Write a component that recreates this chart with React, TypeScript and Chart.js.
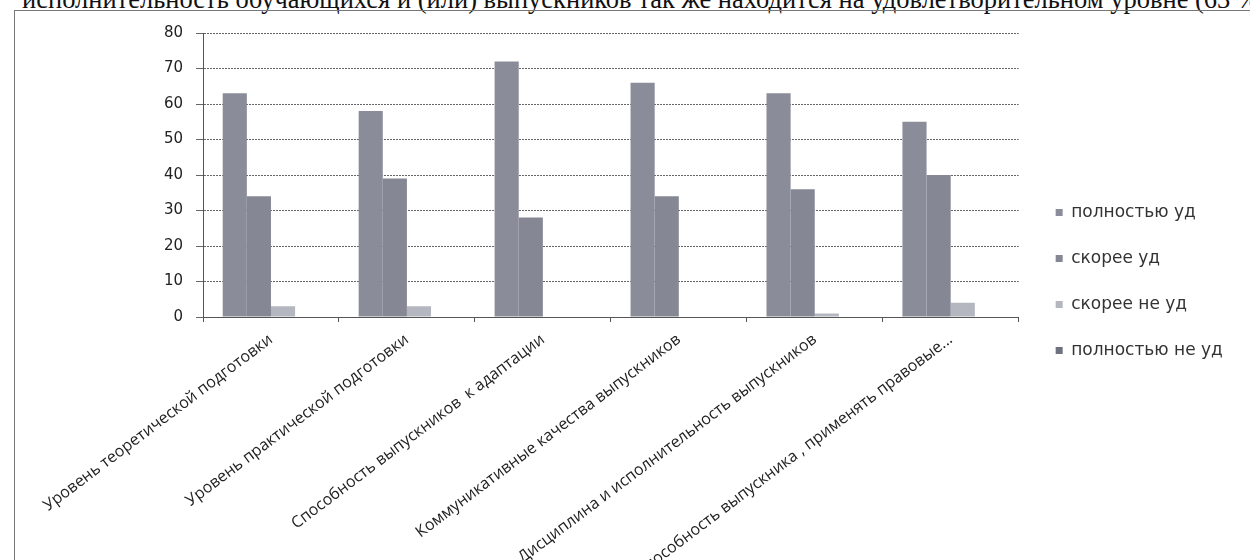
import React, { useEffect, useRef } from "react";
import { Chart, registerables } from "chart.js";

Chart.register(...registerables);

const headerText =
  "исполнительность обучающихся и (или) выпускников так же находится на удовлетворительном уровне (63 %";

const categories = [
  "Уровень теоретической подготовки",
  "Уровень практической подготовки",
  "Способность выпускников  к адаптации",
  "Коммуникативные качества выпускников",
  "Дисциплина и исполнительность выпускников",
  "Способность выпускника , применять правовые...",
];

const seriesNames = ["полностью уд", "скорее уд", "скорее не уд", "полностью не уд"];

const fullySatisfied = [63, 58, 72, 66, 63, 55];
const ratherSatisfied = [34, 39, 28, 34, 36, 40];
const ratherNotSatisfied = [3, 3, 0, 0, 1, 4];
const fullyNotSatisfied = [0, 0, 0, 0, 0, 0];

const yMin = 0;
const yMax = 80;
const yStep = 10;

const seriesColors = ["#8a8d99", "#858894", "#b4b7c0", "#6e717e"];

// let the rotated category labels run past the axis box down to the canvas edge
const unclipLabels = {
  id: "unclipLabels",
  afterLayout(chart: any) {
    const sx = chart.scales.x;
    if (sx) sx.bottom = chart.height;
  },
};

export default function App() {
  const ref = useRef<HTMLCanvasElement>(null);

  useEffect(() => {
    if (!ref.current) return;
    const seriesData = [fullySatisfied, ratherSatisfied, ratherNotSatisfied, fullyNotSatisfied];
    const chart = new Chart(ref.current, {
      type: "bar",
      data: {
        labels: categories,
        datasets: seriesNames.map((name, i) => ({
          label: name,
          data: seriesData[i],
          backgroundColor: seriesColors[i],
          borderWidth: 0,
          categoryPercentage: 0.71,
          barPercentage: 1,
        })),
      },
      plugins: [unclipLabels],
      options: {
        responsive: false,
        animation: false,
        layout: { padding: { top: 16, bottom: 24, left: 0, right: 21 } },
        plugins: {
          legend: {
            position: "right",
            labels: {
              boxWidth: 7,
              boxHeight: 7,
              padding: 29,
              color: "#333",
              font: { family: "DejaVu Sans", size: 17 },
            },
          },
          tooltip: { enabled: false },
        },
        scales: {
          x: {
            grid: { drawOnChartArea: false, drawTicks: true, tickLength: 5, color: "#555" },
            border: { color: "#555" },
            ticks: {
              autoSkip: false,
              maxRotation: 37,
              minRotation: 37,
              color: "#222",
              padding: 8,
              font: { family: "Open Sans", size: 16 },
            },
            afterFit: (s: any) => {
              s.height = 219;
              s.paddingLeft = 0;
              s.paddingRight = 0;
            },
          },
          y: {
            min: yMin,
            max: yMax,
            ticks: {
              stepSize: yStep,
              color: "#222",
              padding: 13,
              font: { family: "DejaVu Sans", size: 15 },
            },
            grid: { color: "#666", tickLength: 7, drawTicks: true },
            border: { color: "#555", dash: [2, 1] },
            afterFit: (s: any) => {
              s.width = 188;
            },
          },
          gap: {
            type: "linear",
            position: "right",
            display: true,
            grid: { display: false },
            ticks: { display: false },
            border: { display: false },
            afterFit: (s: any) => {
              s.width = 8;
            },
          },
        },
      } as any,
    });
    return () => chart.destroy();
  }, []);

  return (
    <div
      style={{
        position: "absolute",
        left: 0,
        top: 0,
        width: 1250,
        height: 560,
        overflow: "hidden",
        background: "#fff",
      }}
    >
      <div
        style={{
          position: "absolute",
          left: 22,
          top: -14,
          whiteSpace: "nowrap",
          fontFamily: "'Liberation Serif', serif",
          fontSize: 26.5,
          lineHeight: "26px",
          color: "#111",
        }}
      >
        {headerText}
      </div>
      <div
        style={{
          position: "absolute",
          left: 14,
          top: 10,
          width: 1250,
          height: 600,
          border: "1px solid #777",
          boxSizing: "border-box",
        }}
      />
      <canvas
        ref={ref}
        width={1235}
        height={549}
        style={{ position: "absolute", left: 15, top: 11, width: 1235, height: 549 }}
      />
    </div>
  );
}
